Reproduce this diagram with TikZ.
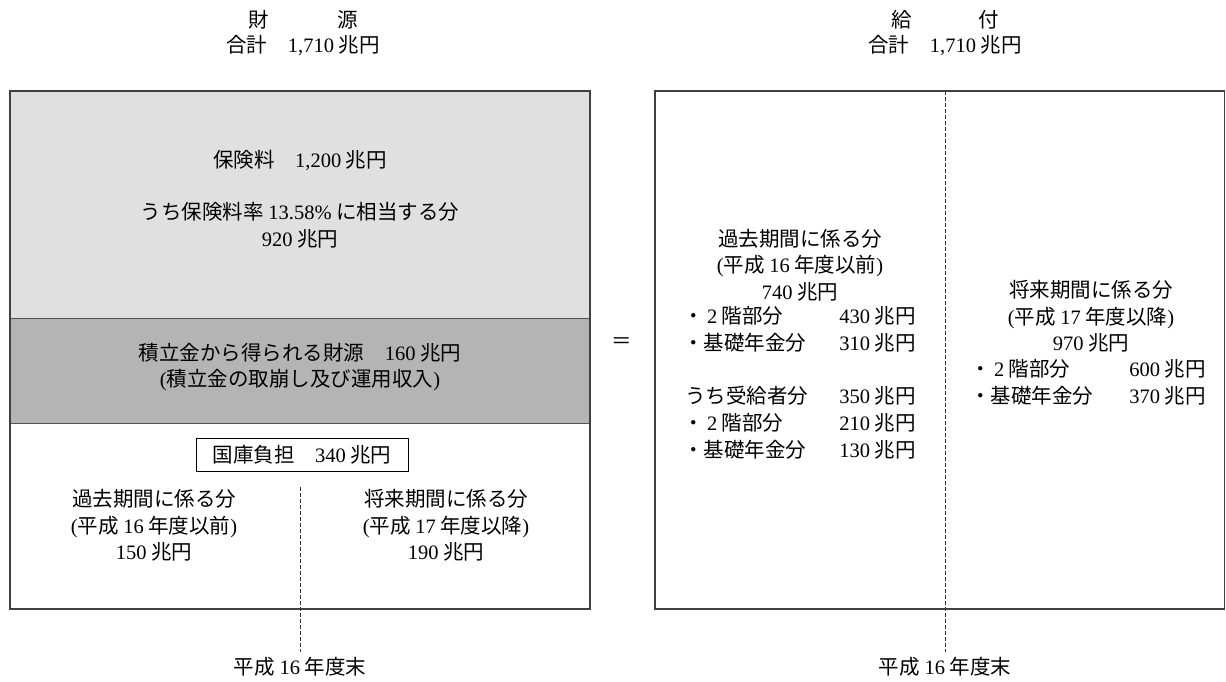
\documentclass[tikz,border=0pt]{standalone}
\usepackage{fontspec}
\setmainfont{Noto Sans CJK JP}
\newfontfamily\lat{Liberation Serif}
\newcommand\N[1]{{\lat #1}}
\definecolor{lightg}{HTML}{E0E0E0}
\definecolor{darkg}{HTML}{B4B4B4}
\definecolor{edge}{HTML}{404040}
\begin{document}
\begin{tikzpicture}[x=1pt,y=-1pt,
  every node/.style={font=\fontsize{20.5}{26.5}\selectfont, inner sep=0pt, text=black},
  txt/.style={align=center},
  frame/.style={draw=edge, line width=1.1pt},
  sep/.style={draw=edge!90, line width=1pt},
  divider/.style={draw=black!80, dashed, line width=0.6pt, dash pattern=on 4pt off 2pt},
  lbox/.style={draw=black, line width=0.9pt, minimum width=212pt, minimum height=33pt}]
\useasboundingbox (0,0) rectangle (1226,682);
% ---------- left: sources ----------
\node[txt] (t1) at (303,20) {財\hspace{68pt}源};
\node[txt] (t2) at (303,45) {合計\quad\N{1,710} 兆円};
\fill[lightg] (10,91) rectangle (590,318);
\fill[darkg] (10,318) rectangle (590,423);
\draw[sep] (10,318) -- (590,318);
\draw[sep] (10,423) -- (590,423);
\draw[frame] (10,91) rectangle (590,609);
\node[txt] (hk) at (300,160) {保険料\quad\N{1,200} 兆円};
\node[txt] (hk2) at (300,225.5) {うち保険料率 \N{13.58\%} に相当する分\\\N{920} 兆円};
\node[txt] (tm) at (300,367) {積立金から得られる財源\quad\N{160} 兆円\\\N{(}積立金の取崩し及び運用収入\N{)}};
\node[lbox] (kk) at (302,455) {国庫負担\quad\N{340} 兆円};
\node[txt] (lp) at (154,525.5) {過去期間に係る分\\\N{(}平成 \N{16} 年度以前\N{)}\\\N{150} 兆円};
\node[txt] (lf) at (446,525.5) {将来期間に係る分\\\N{(}平成 \N{17} 年度以降\N{)}\\\N{190} 兆円};
\coordinate (ld1) at (300,487);
\coordinate (ld2) at (300,652);
\draw[divider] (ld1) -- (ld2);
\node[txt] (le) at (300,667) {平成 \N{16} 年度末};
% ---------- equals ----------
\node (eq) at (622,343) {＝};
% ---------- right: benefits ----------
\node[txt] (r1) at (945,20) {給\hspace{66pt}付};
\node[txt] (r2) at (945,45) {合計\quad\N{1,710} 兆円};
\draw[frame] (655,91) rectangle (1224.5,609);
\coordinate (rd1) at (945,91);
\coordinate (rd2) at (945,652);
\draw[divider] (rd1) -- (rd2);
\node[txt] (re) at (945,667) {平成 \N{16} 年度末};
\node[txt] (rp) at (800,265) {過去期間に係る分\\\N{(}平成 \N{16} 年度以前\N{)}\\\N{740} 兆円};
\node[anchor=west] (rpa) at (683,316) {・\,\N{2} 階部分};
\node[anchor=east] (rpav) at (916,316) {\N{430} 兆円};
\node[anchor=west] (rpb) at (683,343) {・基礎年金分};
\node[anchor=east] (rpbv) at (916,343) {\N{310} 兆円};
\node[anchor=west] (rpc) at (685,396) {うち受給者分};
\node[anchor=east] (rpcv) at (916,396) {\N{350} 兆円};
\node[anchor=west] (rpd) at (683,423) {・\,\N{2} 階部分};
\node[anchor=east] (rpdv) at (916,423) {\N{210} 兆円};
\node[anchor=west] (rpe) at (683,450) {・基礎年金分};
\node[anchor=east] (rpev) at (916,450) {\N{130} 兆円};
\node[txt] (rf) at (1091,316.5) {将来期間に係る分\\\N{(}平成 \N{17} 年度以降\N{)}\\\N{970} 兆円};
\node[anchor=west] (rfa) at (970,369) {・\,\N{2} 階部分};
\node[anchor=east] (rfav) at (1206,369) {\N{600} 兆円};
\node[anchor=west] (rfb) at (970,396) {・基礎年金分};
\node[anchor=east] (rfbv) at (1206,396) {\N{370} 兆円};
\end{tikzpicture}
\end{document}
